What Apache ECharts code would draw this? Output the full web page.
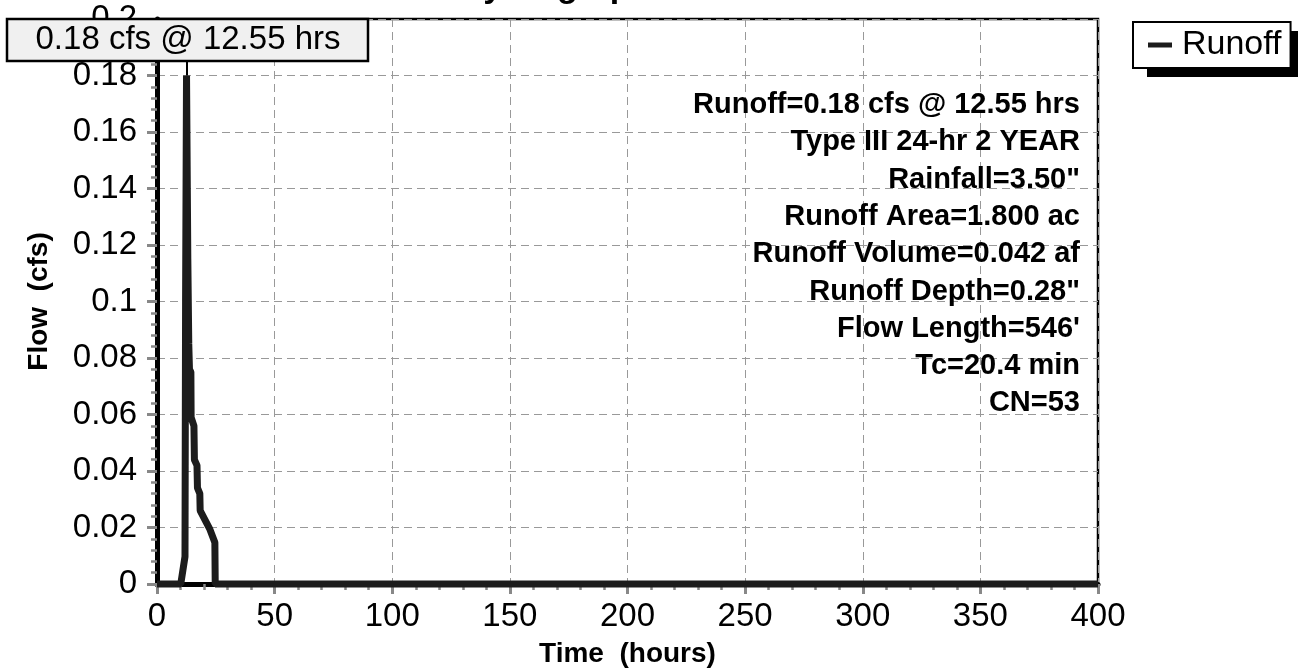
<!DOCTYPE html>
<html>
<head>
<meta charset="utf-8">
<title>Hydrograph</title>
<script src="https://cdn.jsdelivr.net/npm/echarts@6/dist/echarts.min.js"></script>
<style>
  html, body { margin: 0; padding: 0; background: #fff; }
  #chart { width: 1304px; height: 669px; }
</style>
</head>
<body>
<div id="chart"></div>
<script>
// Runoff hydrograph: time (hours) vs flow (cfs)
const hours = [0, 10.1, 11.9, 12.15, 12.55, 13.1, 13.5, 13.8, 14.4, 14.5, 15.7, 15.9, 17.0, 17.2, 18.2, 18.35, 22.5, 24.6, 24.75, 400];
const flow  = [0, 0, 0.0097, 0.10, 0.18, 0.115, 0.085, 0.076, 0.075, 0.059, 0.056, 0.044, 0.042, 0.034, 0.032, 0.026, 0.0193, 0.0147, 0, 0];

const peakFlow = 0.18;
const peakTime = 12.55;

const xTickLabels = ['0', '50', '100', '150', '200', '250', '300', '350', '400'];
const yTickLabels = ['0', '0.02', '0.04', '0.06', '0.08', '0.1', '0.12', '0.14', '0.16', '0.18', '0.2'];

const infoLines = [
  'Runoff=0.18 cfs @ 12.55 hrs',
  'Type III 24-hr 2 YEAR',
  'Rainfall=3.50"',
  'Runoff Area=1.800 ac',
  'Runoff Volume=0.042 af',
  'Runoff Depth=0.28"',
  "Flow Length=546'",
  'Tc=20.4 min',
  'CN=53'
];

const peakLabel = '0.18 cfs @ 12.55 hrs';

const REG = 'Liberation Sans, Arial, Helvetica, sans-serif';

const chart = echarts.init(document.getElementById('chart'), null, { renderer: 'canvas' });

const seriesData = hours.map((h, i) => [h, flow[i]]);

const infoGraphics = infoLines.map((t, i) => ({
  type: 'text',
  x: 1080,
  y: 105 + i * 37.3,
  zlevel: 1,
  style: {
    text: t,
    font: 'bold 29px ' + REG,
    fill: '#000',
    align: 'right',
    verticalAlign: 'middle'
  }
}));

chart.setOption({
  animation: false,
  backgroundColor: '#fff',
  grid: {
    left: 157, right: 206, top: 19, bottom: 85,
    show: true,
    borderColor: '#000',
    borderWidth: 2.5,
    backgroundColor: 'transparent',
    outerBoundsMode: 'none'
  },
  legend: {
    left: 1133, top: 22,
    z: 10,
    icon: 'rect',
    itemWidth: 24, itemHeight: 5,
    itemGap: 0,
    padding: [6, 9, 6, 15],
    backgroundColor: '#fff',
    borderColor: '#000',
    borderWidth: 2,
    borderRadius: 0,
    textStyle: { fontFamily: REG, fontSize: 34, color: '#000', lineHeight: 34, padding: [0, 0, 0, 5] },
    data: ['Runoff']
  },
  xAxis: {
    type: 'value',
    min: 0, max: 400, interval: 50,
    name: 'Time  (hours)',
    nameLocation: 'middle',
    nameGap: 56,
    nameTextStyle: { fontFamily: REG, fontWeight: 'bold', fontSize: 28, color: '#000' },
    axisLine: { show: true, onZero: false, lineStyle: { color: '#000', width: 5 } },
    axisTick: { show: true, length: 10, lineStyle: { color: '#888', width: 3 } },
    minorTick: { show: true, splitNumber: 5, length: 6, lineStyle: { color: '#888', width: 2.5 } },
    axisLabel: {
      margin: 16,
      fontFamily: REG, fontSize: 33, color: '#000',
      formatter: v => xTickLabels[Math.round(v / 50)]
    },
    splitLine: { show: true, lineStyle: { color: '#999', width: 1, type: [8, 5] } }
  },
  yAxis: {
    type: 'value',
    min: 0, max: 0.2, interval: 0.02,
    name: 'Flow  (cfs)',
    nameLocation: 'middle',
    nameGap: 104,
    nameTextStyle: { fontFamily: REG, fontWeight: 'bold', fontSize: 28, color: '#000' },
    axisLine: { show: true, onZero: false, lineStyle: { color: '#000', width: 5 } },
    axisTick: { show: true, length: 10, lineStyle: { color: '#888', width: 3 } },
    minorTick: { show: true, splitNumber: 5, length: 6, lineStyle: { color: '#888', width: 2.5 } },
    axisLabel: {
      margin: 20,
      fontFamily: REG, fontSize: 33, color: '#000',
      formatter: v => yTickLabels[Math.round(v / 0.02)]
    },
    splitLine: { show: true, lineStyle: { color: '#999', width: 1, type: [8, 5] } }
  },
  series: [{
    name: 'Runoff',
    type: 'line',
    data: seriesData,
    showSymbol: false,
    symbol: 'none',
    clip: false,
    color: '#1c1c1c',
    lineStyle: { color: '#1c1c1c', width: 7, join: 'bevel', cap: 'butt' },
    markLine: {
      silent: true,
      symbol: 'none',
      label: { show: false },
      lineStyle: { color: '#000', width: 2, type: 'solid' },
      data: [[{ coord: [peakTime, peakFlow] }, { coord: [peakTime, 0.1848] }]]
    },
    z: 3
  }],
  graphic: [
    // drop shadow behind the legend box
    { type: 'rect', z: 1, shape: { x: 1147, y: 31, width: 151, height: 46 }, style: { fill: '#000' } },
    // peak callout box
    { type: 'rect', zlevel: 1, shape: { x: 7, y: 19, width: 361, height: 42 }, style: { fill: '#f0f0f0', stroke: '#000', lineWidth: 2.5 } },
    { type: 'text', zlevel: 1, x: 188, y: 40, style: { text: peakLabel, font: '33px ' + REG, fill: '#000', align: 'center', verticalAlign: 'middle' } },
    // chart title
    { type: 'text', zlevel: 1, x: 555, y: -12, style: { text: 'Hydrograph', font: 'bold 34px ' + REG, fill: '#000', align: 'center', verticalAlign: 'middle' } }
  ].concat(infoGraphics)
});
</script>
</body>
</html>
